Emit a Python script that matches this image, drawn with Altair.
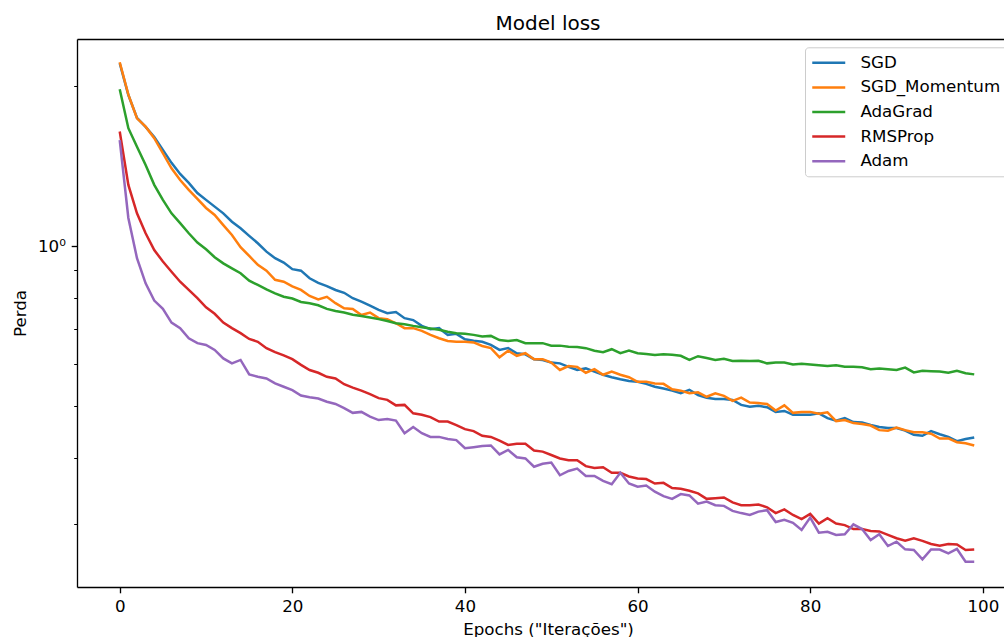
import altair as alt
import pandas as pd

# ---------------- data ----------------
epochs = list(range(100))

sgd = [2.205, 1.922, 1.741, 1.674, 1.603, 1.516, 1.433, 1.366, 1.314, 1.258,
       1.221, 1.186, 1.152, 1.111, 1.080, 1.045, 1.012, 0.976, 0.949, 0.931,
       0.905, 0.899, 0.870, 0.853, 0.841, 0.827, 0.817, 0.798, 0.786, 0.773,
       0.759, 0.748, 0.752, 0.732, 0.726, 0.708, 0.698, 0.701, 0.681, 0.684,
       0.668, 0.664, 0.661, 0.652, 0.638, 0.643, 0.629, 0.626, 0.613, 0.611,
       0.604, 0.602, 0.593, 0.585, 0.589, 0.581, 0.573, 0.567, 0.562, 0.558,
       0.556, 0.551, 0.544, 0.540, 0.535, 0.529, 0.537, 0.525, 0.519, 0.516,
       0.516, 0.514, 0.503, 0.499, 0.501, 0.498, 0.488, 0.490, 0.482, 0.482,
       0.482, 0.485, 0.475, 0.470, 0.475, 0.467, 0.466, 0.461, 0.457, 0.455,
       0.455, 0.450, 0.442, 0.440, 0.449, 0.443, 0.438, 0.430, 0.434, 0.437]

sgd_momentum = [2.215, 1.925, 1.738, 1.676, 1.595, 1.494, 1.400, 1.331, 1.275, 1.226,
                1.179, 1.144, 1.095, 1.049, 0.995, 0.958, 0.922, 0.899, 0.864, 0.857,
                0.840, 0.827, 0.806, 0.794, 0.803, 0.781, 0.764, 0.762, 0.742, 0.750,
                0.732, 0.729, 0.716, 0.701, 0.701, 0.693, 0.681, 0.671, 0.663, 0.661,
                0.661, 0.659, 0.649, 0.643, 0.618, 0.636, 0.622, 0.629, 0.613, 0.613,
                0.604, 0.585, 0.595, 0.593, 0.578, 0.587, 0.573, 0.581, 0.573, 0.567,
                0.556, 0.556, 0.552, 0.551, 0.538, 0.535, 0.529, 0.531, 0.521, 0.529,
                0.523, 0.512, 0.519, 0.508, 0.507, 0.505, 0.491, 0.502, 0.486, 0.488,
                0.488, 0.484, 0.487, 0.469, 0.471, 0.465, 0.463, 0.460, 0.451, 0.450,
                0.456, 0.451, 0.447, 0.447, 0.444, 0.435, 0.435, 0.428, 0.426, 0.422]

adagrad = [1.971, 1.665, 1.537, 1.420, 1.303, 1.221, 1.152, 1.104, 1.057, 1.015,
           0.986, 0.953, 0.928, 0.908, 0.889, 0.861, 0.845, 0.829, 0.815, 0.803,
           0.797, 0.785, 0.781, 0.774, 0.762, 0.755, 0.750, 0.743, 0.739, 0.734,
           0.729, 0.723, 0.716, 0.713, 0.708, 0.704, 0.700, 0.696, 0.690, 0.686,
           0.684, 0.681, 0.676, 0.678, 0.666, 0.663, 0.666, 0.657, 0.657, 0.657,
           0.650, 0.650, 0.647, 0.646, 0.643, 0.636, 0.632, 0.640, 0.629, 0.636,
           0.629, 0.627, 0.624, 0.626, 0.625, 0.622, 0.611, 0.621, 0.616, 0.611,
           0.614, 0.608, 0.609, 0.608, 0.609, 0.602, 0.604, 0.604, 0.599, 0.601,
           0.599, 0.597, 0.595, 0.597, 0.593, 0.593, 0.592, 0.587, 0.589, 0.587,
           0.585, 0.591, 0.579, 0.583, 0.582, 0.581, 0.578, 0.583, 0.577, 0.574]

rmsprop = [1.641, 1.303, 1.152, 1.057, 0.983, 0.935, 0.895, 0.857, 0.827, 0.798,
           0.767, 0.746, 0.718, 0.701, 0.686, 0.669, 0.661, 0.643, 0.632, 0.623,
           0.613, 0.598, 0.585, 0.578, 0.568, 0.564, 0.550, 0.542, 0.535, 0.527,
           0.518, 0.514, 0.502, 0.503, 0.485, 0.482, 0.477, 0.468, 0.468, 0.461,
           0.453, 0.449, 0.440, 0.438, 0.431, 0.423, 0.425, 0.425, 0.413, 0.411,
           0.405, 0.399, 0.396, 0.396, 0.386, 0.383, 0.384, 0.375, 0.375, 0.369,
           0.366, 0.365, 0.358, 0.359, 0.351, 0.350, 0.347, 0.343, 0.335, 0.336,
           0.337, 0.330, 0.326, 0.326, 0.327, 0.323, 0.315, 0.320, 0.3125, 0.307,
           0.314, 0.301, 0.308, 0.301, 0.299, 0.294, 0.294, 0.2915, 0.291, 0.2866,
           0.2825, 0.2796, 0.2825, 0.2794, 0.2756, 0.2735, 0.2756, 0.2749, 0.2685, 0.2691]

adam = [1.582, 1.129, 0.949, 0.851, 0.790, 0.762, 0.718, 0.701, 0.671, 0.657,
        0.652, 0.638, 0.615, 0.602, 0.611, 0.574, 0.568, 0.564, 0.552, 0.544,
        0.536, 0.524, 0.520, 0.517, 0.510, 0.505, 0.496, 0.486, 0.488, 0.478,
        0.471, 0.473, 0.470, 0.445, 0.457, 0.445, 0.438, 0.438, 0.434, 0.432,
        0.417, 0.419, 0.421, 0.422, 0.406, 0.414, 0.401, 0.399, 0.385, 0.390,
        0.392, 0.371, 0.378, 0.382, 0.370, 0.370, 0.362, 0.357, 0.375, 0.358,
        0.353, 0.355, 0.3455, 0.339, 0.335, 0.342, 0.340, 0.328, 0.331, 0.326,
        0.325, 0.318, 0.315, 0.3125, 0.317, 0.319, 0.303, 0.306, 0.302, 0.2928,
        0.309, 0.2894, 0.2905, 0.2866, 0.2874, 0.300, 0.294, 0.2804, 0.2874, 0.2732,
        0.2783, 0.2693, 0.2685, 0.2579, 0.2691, 0.2691, 0.2646, 0.2697, 0.2553, 0.2553]

series_names = ["SGD", "SGD_Momentum", "AdaGrad", "RMSProp", "Adam"]
series_values = [sgd, sgd_momentum, adagrad, rmsprop, adam]
series_colors = ["#1f77b4", "#ff7f0e", "#2ca02c", "#d62728", "#9467bd"]

x_ticks = [0, 20, 40, 60, 80, 100]
y_major = [1.0]
y_minor = [0.3, 0.4, 0.5, 0.6, 0.7, 0.8, 0.9, 2.0]

rows = []
for name, vals in zip(series_names, series_values):
    for e, v in zip(epochs, vals):
        rows.append({"epoch": e, "loss": v, "series": name})
df = pd.DataFrame(rows)

# ---------------- styling ----------------
FONT = "DejaVu Sans"
FS = 16.7
x_scale = alt.Scale(domain=[-4.95, 102.45], nice=False, zero=False)
y_scale = alt.Scale(type="log", domain=[0.2288, 2.449], nice=False)

color = alt.Color(
    "series:N",
    scale=alt.Scale(domain=series_names, range=series_colors),
    legend=alt.Legend(
        title=None,
        orient="none",
        legendX=728,
        legendY=8.3,
        symbolType="M-1,0H3",
        symbolSize=272,
        symbolStrokeWidth=2.5,
        labelFont=FONT,
        labelFontSize=FS,
        labelColor="black",
        labelOffset=30.4,
        rowPadding=5.6,
        padding=6,
        fillColor="rgba(255,255,255,0.8)",
        strokeColor="#cccccc",
        cornerRadius=3.3,
    ),
)

x_axis = alt.Axis(
    values=x_ticks, title='Epochs ("Iterações")', grid=False,
    tickSize=5.8, tickWidth=1.33, tickColor="black",
    domainColor="black", domainWidth=1.33,
    labelFont=FONT, labelFontSize=FS, labelColor="black", labelPadding=5.8,
    labelFlush=False,
    titleFont=FONT, titleFontSize=FS, titleFontWeight="normal", titleColor="black",
    titleX=471, titleY=47, titleBaseline="alphabetic", titleAlign="center",
)

y_axis = alt.Axis(
    values=y_major, labelExpr="datum.value == 1 ? '10⁰' : ''", title="Perda", grid=False,
    tickSize=5.8, tickWidth=1.33, tickColor="black",
    domainColor="black", domainWidth=1.33,
    labelFont=FONT, labelFontSize=FS, labelColor="black", labelPadding=5.8,
    titleFont=FONT, titleFontSize=FS, titleFontWeight="normal", titleColor="black",
    titleX=-52, titleY=274, titleAngle=270, titleBaseline="alphabetic", titleAlign="center",
)

lines = []
for name in series_names:
    lines.append(
        alt.Chart(df)
        .transform_filter(alt.datum.series == name)
        .mark_line(strokeWidth=2.5)
        .encode(
            x=alt.X("epoch:Q", scale=x_scale, axis=x_axis),
            y=alt.Y("loss:Q", scale=y_scale, axis=y_axis),
            color=color,
        )
    )
main = alt.layer(*lines)

minor = (
    alt.Chart(df)
    .mark_line(opacity=0)
    .encode(
        x=alt.X("epoch:Q", scale=x_scale,
                axis=alt.Axis(orient="top", ticks=False, labels=False, title="", grid=False,
                              domainColor="black", domainWidth=1.33)),
        y=alt.Y("loss:Q", scale=y_scale,
                axis=alt.Axis(orient="left", values=y_minor, labels=False, title="", grid=False,
                              domain=False, tickSize=3.3, tickWidth=1, tickColor="black")),
        detail="series:N",
    )
)

chart = (
    alt.layer(main, minor)
    .resolve_axis(x="independent", y="independent")
    .properties(
        width=927,
        height=548,
        padding={"left": 77, "top": 39, "right": 0, "bottom": 50},
        autosize=alt.AutoSizeParams(type="none"),
        title=alt.TitleParams("Model loss", font=FONT, fontSize=20, fontWeight="normal",
                              color="black", anchor="middle", baseline="alphabetic",
                              offset=-11, dx=7.5),
        background="white",
    )
    .configure_view(strokeWidth=0)
)

chart.save("out.html", embed_options={"renderer": "svg", "actions": False})
